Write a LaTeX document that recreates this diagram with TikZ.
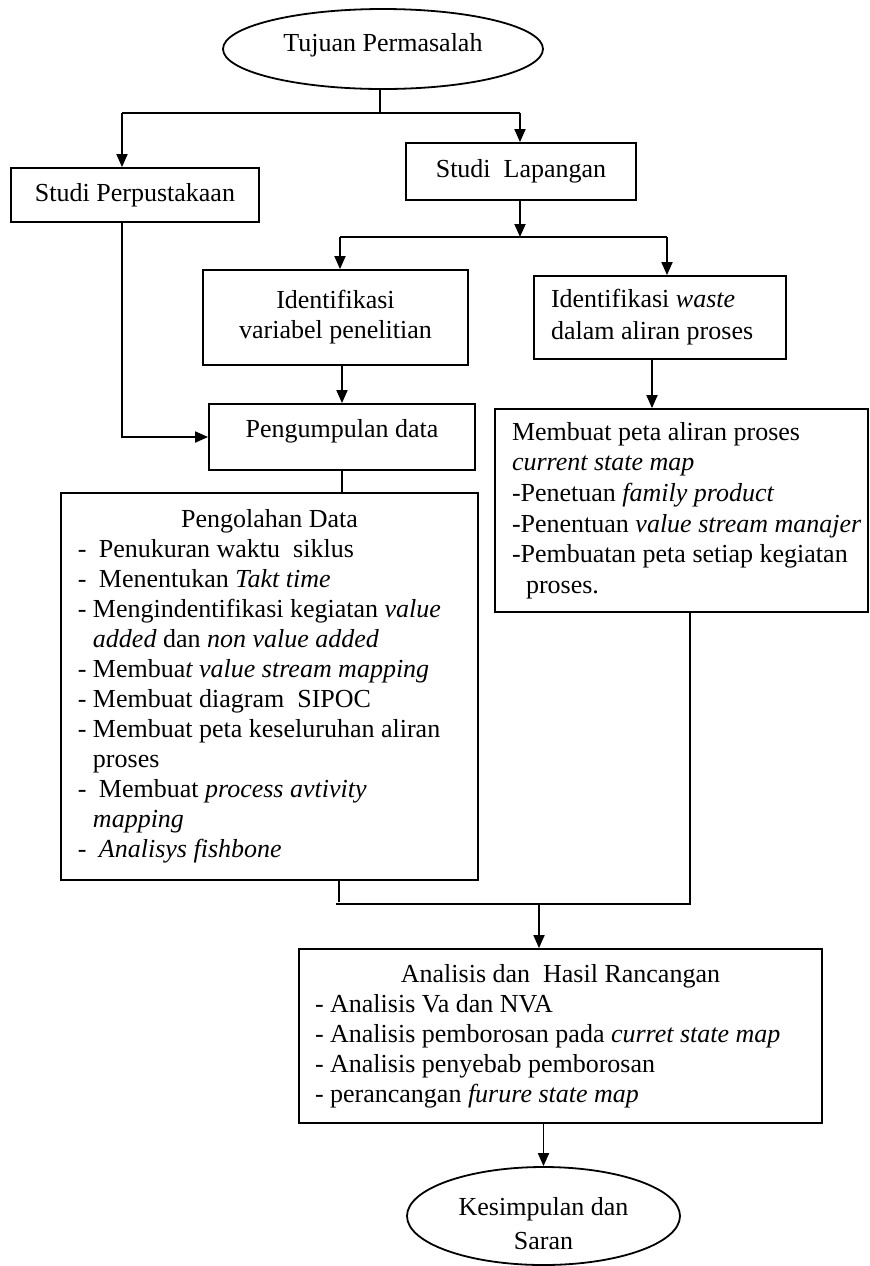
\documentclass[tikz,border=0pt]{standalone}
\usepackage{fontspec}
\setmainfont{Liberation Serif}
\usetikzlibrary{shapes.geometric,arrows.meta}
% one unit of the drawing grid
\newdimen\pxu \pxu=0.5pt

\begin{document}
\begin{tikzpicture}[x=0.5pt,y=-0.5pt,
  every node/.style={font=\fontsize{13pt}{15pt}\selectfont},
  box/.style={draw, line width=0.9pt, rectangle, inner sep=0pt},
  oval/.style={draw, line width=0.9pt, ellipse, inner sep=0pt, align=center},
  link/.style={line width=0.9pt},
  arr/.style={line width=0.9pt, -{Triangle[length=6.5pt,width=5.5pt]}},
]
\useasboundingbox (0,0) rectangle (870,1266);

% start and end
\node[oval, minimum width=320\pxu, minimum height=80\pxu, text depth=6.5pt] (tujuan) at (383,49) {Tujuan Permasalah};
\node[oval, minimum width=273\pxu, minimum height=98\pxu, text height=34pt] (simpul) at (543.5,1216) {Kesimpulan dan\\[2pt]Saran};

% studies
\node[box, minimum width=248\pxu, minimum height=54\pxu] (perpus) at (135,195) {Studi Perpustakaan};
\node[box, minimum width=230\pxu, minimum height=57\pxu] (lapangan) at (521,171.5) {Studi\ \ Lapangan};

% identification
\node[box, minimum width=265\pxu, minimum height=95\pxu, align=center] (idvar) at (335.5,317.5)
  {Identifikasi\\variabel penelitian};
\node[box, text width=252\pxu, minimum height=83\pxu, align=flush left] (idwaste) at (660,317.5)
  {\hspace*{17\pxu}Identifikasi \textit{waste}\\[1pt]
   \hspace*{17\pxu}dalam aliran proses};

% data collection
\node[box, minimum width=266\pxu, minimum height=66\pxu, text depth=9pt] (kumpul) at (342,437) {Pengumpulan data};

% current state map
\node[box, text width=373\pxu, minimum height=203\pxu, align=flush left] (peta) at (681.5,510.5)
  {\hspace*{17\pxu}Membuat peta aliran proses\\[0.3pt]
   \hspace*{17\pxu}\textit{current state map}\\[0.3pt]
   \hspace*{17\pxu}-Penetuan \textit{family product}\\[0.3pt]
   \hspace*{17\pxu}-Penentuan \textit{value stream manajer}\\[0.3pt]
   \hspace*{17\pxu}-Pembuatan peta setiap kegiatan\\[0.3pt]
   \hspace*{31\pxu}proses.};

% data processing
\node[box, text width=417\pxu, minimum height=387\pxu, align=flush left] (olah) at (269.5,686.5)
  {\makebox[417\pxu]{Pengolahan Data}\\
   \hspace*{17\pxu}\makebox[21\pxu][l]{-}Penukuran waktu\ \ siklus\\
   \hspace*{17\pxu}\makebox[21\pxu][l]{-}Menentukan \textit{Takt time}\\
   \hspace*{17\pxu}\makebox[15\pxu][l]{-}Mengindentifikasi kegiatan \textit{value}\\
   \hspace*{32\pxu}\textit{added} dan \textit{non value added}\\
   \hspace*{17\pxu}\makebox[15\pxu][l]{-}Membua\textit{t value stream mapping}\\
   \hspace*{17\pxu}\makebox[15\pxu][l]{-}Membuat diagram\ \ SIPOC\\
   \hspace*{17\pxu}\makebox[15\pxu][l]{-}Membuat peta keseluruhan aliran\\
   \hspace*{32\pxu}proses\\
   \hspace*{17\pxu}\makebox[21\pxu][l]{-}Membuat \textit{process avtivity}\\
   \hspace*{32\pxu}\textit{mapping}\\
   \hspace*{17\pxu}\makebox[21\pxu][l]{-}\textit{Analisys fishbone}};

% analysis and design
\node[box, text width=523\pxu, minimum height=174\pxu, align=flush left] (analisis) at (560.5,1036)
  {\makebox[523\pxu]{Analisis dan\ \ Hasil Rancangan}\\
   \hspace*{16\pxu}- Analisis Va dan NVA\\
   \hspace*{16\pxu}- Analisis pemborosan pada \textit{curret state map}\\
   \hspace*{16\pxu}- Analisis penyebab pemborosan\\
   \hspace*{16\pxu}- perancangan \textit{furure state map}};

% junction points of the connectors
\coordinate (ja) at (380,113);
\coordinate (jaL) at (122,113);
\coordinate (jaR) at (520,113);
\coordinate (jb) at (520,237);
\coordinate (jbL) at (340,237);
\coordinate (jbR) at (667,237);
\coordinate (xw) at (652,0);
\coordinate (xo) at (339,0);
\coordinate (xp) at (690,0);
\coordinate (jcL) at (336,904);
\coordinate (jcR) at (690,904);
\coordinate (jc) at (539,904);

% connectors
\draw[link] (ja |- tujuan.south) -- (ja);
\draw[link] (jaL) -- (jaR);
\draw[arr] (jaL) -- (jaL |- perpus.north);
\draw[arr] (jaR) -- (jaR |- lapangan.north);
\draw[arr] (jb |- lapangan.south) -- (jb);
\draw[link] (jbL) -- (jbR);
\draw[arr] (jbL) -- (jbL |- idvar.north);
\draw[arr] (jbR) -- (jbR |- idwaste.north);
\draw[arr] (jaL |- perpus.south) -- (jaL |- kumpul.west) -- (kumpul.west);
\draw[arr] (kumpul.north |- idvar.south) -- (kumpul.north);
\draw[link] (kumpul.south) -- (kumpul.south |- olah.north);
\draw[arr] (xw |- idwaste.south) -- (xw |- peta.north);
\draw[link] (xo |- olah.south) -- ++(0,21);
\draw[link] (jcL) -- (jcR) -- (xp |- peta.south);
\draw[arr] (jc) -- (jc |- analisis.north);
\draw[arr] (simpul.north |- analisis.south) -- (simpul.north);
\end{tikzpicture}
\end{document}
